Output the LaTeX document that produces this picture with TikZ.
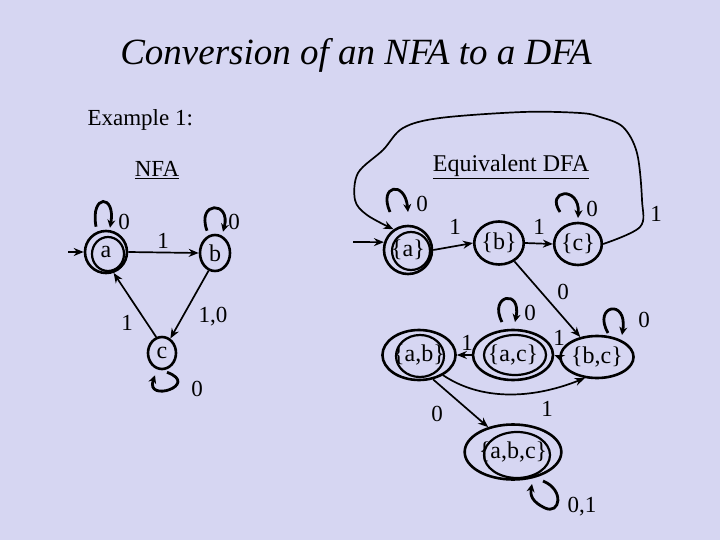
\documentclass[tikz,border=0pt]{standalone}
\usepackage{fontspec}
\setmainfont{Liberation Serif}
\usetikzlibrary{arrows.meta,shapes.geometric,calc}
\definecolor{bg}{RGB}{214,214,242}
\begin{document}
\begin{tikzpicture}[x=1pt,y=-1pt,
  st/.style={draw,line width=2.6pt,ellipse,inner sep=0pt,font=\fontsize{24}{24}\selectfont},
  ring/.style={draw,line width=2.2pt},
  arr/.style={-{Stealth[length=10pt,width=8pt]},line width=1.7pt},
  lp/.style={-{Stealth[length=8pt,width=8pt]},line width=2.8pt},
  lbl/.style={font=\fontsize{23}{23}\selectfont,inner sep=0pt}]
\fill[bg] (0,0) rectangle (720,540);
\useasboundingbox (0,0) rectangle (720,540);

% texts
\node (title) at (356,55) {\fontsize{37}{37}\selectfont\itshape Conversion of an NFA to a DFA};
\node[anchor=west] (ex) at (84,120) {\fontsize{23}{23}\selectfont Example 1:};
\node (nfa) at (157,170) {\fontsize{23}{23}\selectfont\underline{NFA}};
\node (dfa) at (511,167) {\fontsize{24}{24}\selectfont\underline{Equivalent DFA}};

% ---------- NFA ----------
\node[st,minimum width=42pt,minimum height=42pt] (a) at (106,252) {a};
\draw[ring] (108,254) ellipse [x radius=16pt,y radius=17pt];
\node[st,minimum width=30pt,minimum height=36pt] (b) at (215,253) {b};
\node[st,minimum width=28pt,minimum height=32pt] (c) at (162,353) {c};

\coordinate (ia) at (68,252);
\draw[arr] (ia) -- (a.west);
\draw[arr] (a.east) -- (b.west);
\draw[arr] (b.-110) -- (c.60);
\draw[arr] (c.110) -- (a.-70);

\draw[lp] ([shift={(-10pt,3pt)}]a.north) .. controls +(100:34pt) and +(80:34pt) .. ([shift={(4pt,2pt)}]a.north);
\draw[lp] ([shift={(-8pt,3pt)}]b.north) .. controls +(110:32pt) and +(75:32pt) .. ([shift={(8pt,2pt)}]b.north);
\draw[lp] ([shift={(5pt,-2pt)}]c.south) .. controls +(-20:36pt) and +(-110:30pt) .. ([shift={(-7pt,-5pt)}]c.south);

\node[lbl] (la) at (124,222) {0};
\node[lbl] (lb) at (234,222) {0};
\node[lbl] (lab) at (163,241) {1};
\node[lbl] (lbc) at (213,317) {1,0};
\node[lbl] (lca) at (127,323) {1};
\node[lbl] (lc) at (197,389) {0};

% ---------- DFA ----------
\node[st,minimum width=48pt,minimum height=48pt] (A) at (408,250) {\{a\}};
\draw[ring] (411,251) ellipse [x radius=19pt,y radius=19pt];
\node[st,minimum width=40pt,minimum height=43pt] (B) at (499,243) {\{b\}};
\node[st,minimum width=40pt,minimum height=42pt] (C) at (578,244) {\{c\}};
\node[st,minimum width=80pt,minimum height=50pt] (AC) at (513,355) {\{a,c\}};
\draw[ring] (515,355) ellipse [x radius=31pt,y radius=20pt];
\node[st,minimum width=56pt,minimum height=42pt] (BC) at (597,357) {\{b,c\}};
\node[st,minimum width=56pt,minimum height=50pt] (AB) at (419,355) {\{a,b\}};
\draw[ring] (420,356) ellipse [x radius=24pt,y radius=21pt];
\node[st,minimum width=80pt,minimum height=55pt] (ABC) at (513,452) {\{a,b,c\}};
\draw[ring] (517,455) ellipse [x radius=33pt,y radius=23pt];

\coordinate (iA) at (353,242);
\draw[arr] (iA) -- (A.162);
\draw[arr] (A.east) -- (B.west);
\draw[arr] (B.east) -- (C.west);
\draw[arr] plot[smooth,tension=0.55] coordinates {(C.east) (640,227) (642,200) (637,153) (623,127) (600,117) (580,113) (523,112) (440,118) (403,128) (383,150) (358,173) (355,200) (367,215) (A.125)};
\draw[arr] (B.-50) -- (BC.130);
\draw[arr] (BC.west) -- (AC.east);
\draw[arr] (AC.west) -- (AB.east);
\draw[arr] (AB.-40) .. controls (480,400) and (530,400) .. (BC.-120);
\draw[arr] (AB.-60) -- (ABC.135);

\draw[lp] (390,212) .. controls (378,185) and (405,180) .. (408,212);
\draw[lp] (560,212) .. controls (545,190) and (580,185) .. (578,218);
\draw[lp] (502,322) .. controls (488,295) and (522,288) .. (515,322);
\draw[lp] (608,333) .. controls (592,305) and (628,298) .. (622,335);
\draw[lp] (543,481) .. controls (565,490) and (560,515) .. (545,508) .. controls (532,502) and (530,495) .. (532,484);

\node[lbl] (l1) at (422,204) {0};
\node[lbl] (l2) at (455,227) {1};
\node[lbl] (l3) at (539,227) {1};
\node[lbl] (l4) at (592,209) {0};
\node[lbl] (l5) at (656,214) {1};
\node[lbl] (l6) at (563,292) {0};
\node[lbl] (l7) at (530,313) {0};
\node[lbl] (l8) at (644,320) {0};
\node[lbl] (l9) at (559,338) {1};
\node[lbl] (l10) at (467,343) {1};
\node[lbl] (l11) at (547,409) {1};
\node[lbl] (l12) at (437,414) {0};
\node[lbl] (l13) at (582,507) {0,1};
\end{tikzpicture}
\end{document}
